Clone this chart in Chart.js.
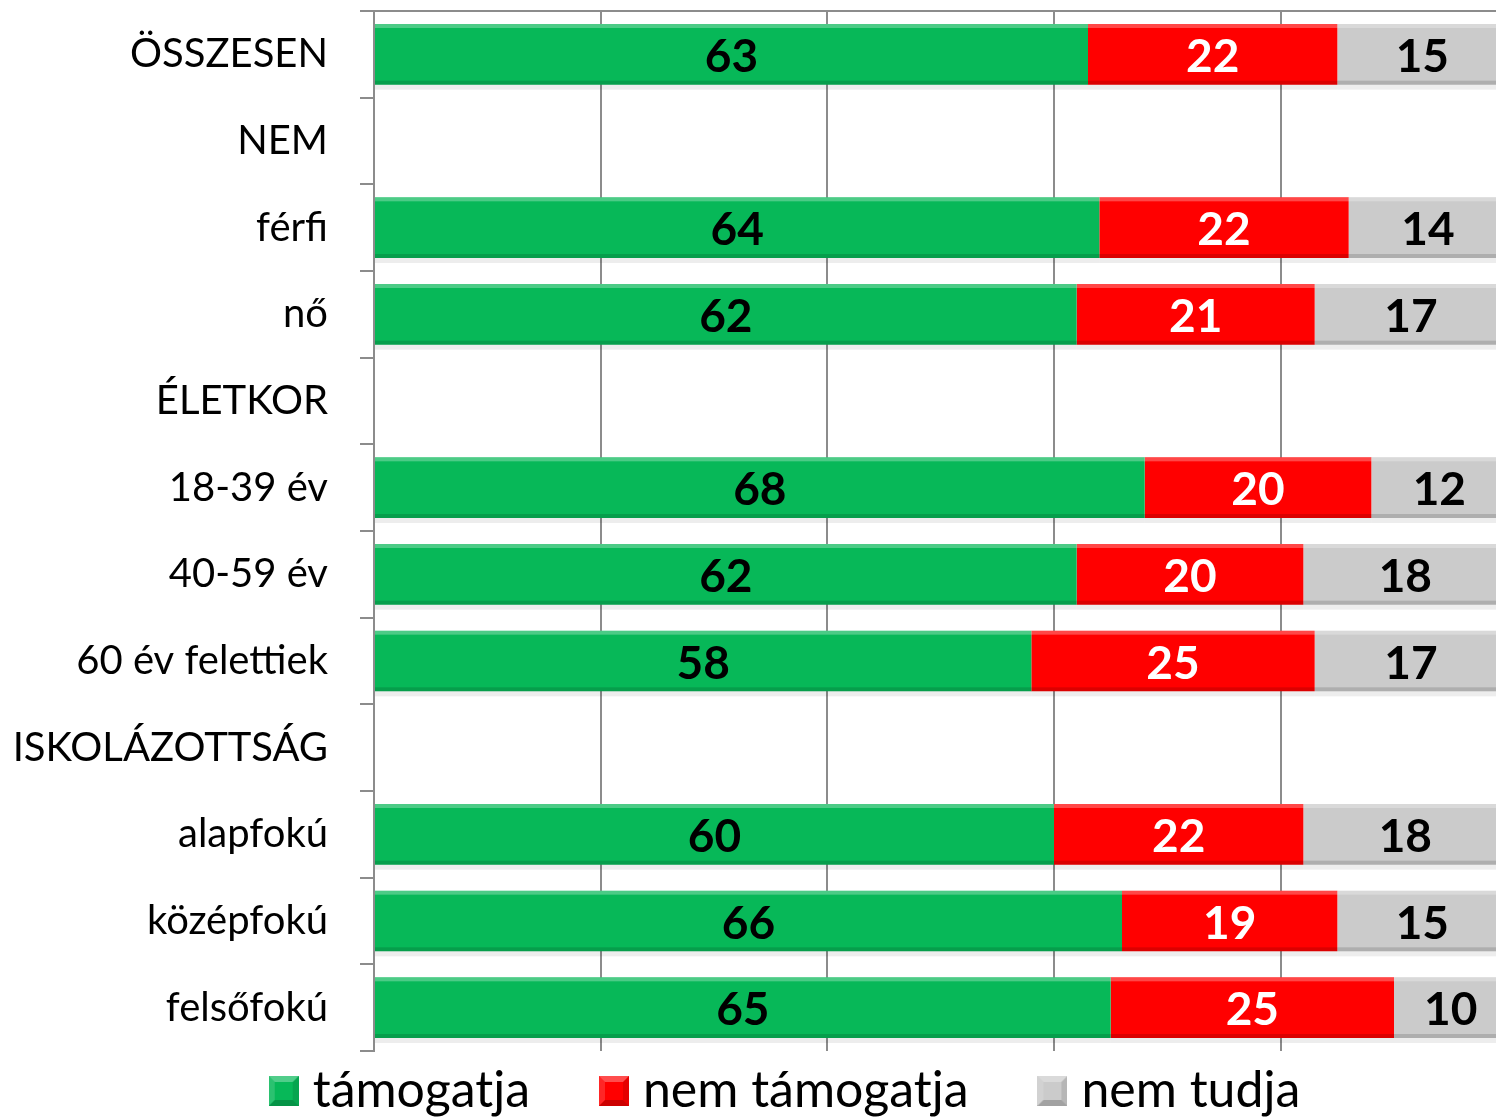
<!DOCTYPE html>
<html>
<head>
<meta charset="utf-8">
<script src="https://cdn.jsdelivr.net/npm/chart.js@4/dist/chart.umd.min.js"></script>
<style>
  html, body { margin: 0; padding: 0; background: #fff; }
  #wrap { width: 1496px; height: 1117px; }
</style>
</head>
<body>
<div id="wrap"><canvas id="myChart" width="1496" height="1117"></canvas></div>
<script>
// kategóriák és adatok
var categories = ['ÖSSZESEN', 'NEM', 'férfi', 'nő', 'ÉLETKOR', '18-39 év', '40-59 év',
                  '60 év felettiek', 'ISKOLÁZOTTSÁG', 'alapfokú', 'középfokú', 'felsőfokú'];
var tamogatja    = [63, null, 64, 62, null, 68, 62, 58, null, 60, 66, 65];
var nemTamogatja = [22, null, 22, 21, null, 20, 20, 25, null, 22, 19, 25];
var nemTudja     = [15, null, 14, 17, null, 12, 18, 17, null, 18, 15, 10];
var xTicks = [0, 20, 40, 60, 80];

var seriesNames = ['támogatja', 'nem támogatja', 'nem tudja'];
var colors = ['#07b858', '#ff0000', '#cbcbcb'];
var labelColors = ['#000000', '#ffffff', '#000000'];

// jelmagyarázat négyzetek, domború hatással
function legendBox(color) {
  var c = document.createElement('canvas');
  c.width = 30; c.height = 30;
  var g = c.getContext('2d');
  g.fillStyle = color;
  g.fillRect(0, 0, 30, 30);
  g.fillStyle = 'rgba(255,255,255,0.3)';
  g.beginPath(); g.moveTo(0, 0); g.lineTo(30, 0); g.lineTo(24, 6); g.lineTo(6, 6); g.closePath(); g.fill();
  g.fillStyle = 'rgba(255,255,255,0.15)';
  g.beginPath(); g.moveTo(0, 0); g.lineTo(6, 6); g.lineTo(6, 24); g.lineTo(0, 30); g.closePath(); g.fill();
  g.fillStyle = 'rgba(0,0,0,0.2)';
  g.beginPath(); g.moveTo(0, 30); g.lineTo(6, 24); g.lineTo(24, 24); g.lineTo(30, 30); g.closePath(); g.fill();
  g.fillStyle = 'rgba(0,0,0,0.1)';
  g.beginPath(); g.moveTo(30, 0); g.lineTo(24, 6); g.lineTo(24, 24); g.lineTo(30, 30); g.closePath(); g.fill();
  return c;
}

// szóközök a jelmagyarázat elemei közé (~77px)
function gapText(px) {
  var m = document.createElement('canvas').getContext('2d');
  m.font = '50px Lato';
  var s = '';
  while (m.measureText(s + ' ').width <= px) s += ' ';
  return s;
}
var legendGap = gapText(77);

// a jelmagyarázat kicsit jobbra
var legendShift = {
  id: 'legendShift',
  afterLayout: function(chart) {
    if (chart.legend) chart.legend.left += 72;
  }
};

// kis "domborítás" a sávokra
var bevel = {
  id: 'bevel',
  afterDatasetsDraw: function(chart) {
    var ctx = chart.ctx, a = chart.chartArea;
    ctx.save();
    ctx.beginPath();
    ctx.rect(a.left, a.top, a.right - a.left, a.bottom - a.top);
    ctx.clip();
    chart.data.datasets.forEach(function(ds, i) {
      chart.getDatasetMeta(i).data.forEach(function(bar, j) {
        if (ds.data[j] == null) return;
        var l = Math.min(bar.x, bar.base), r = Math.max(bar.x, bar.base);
        var t = bar.y - bar.height / 2, b = bar.y + bar.height / 2;
        ctx.fillStyle = 'rgba(255,255,255,0.28)';
        ctx.fillRect(l, t, r - l, 4);
        ctx.fillStyle = 'rgba(0,0,0,0.14)';
        ctx.fillRect(l, b - 4, r - l, 4);
        ctx.fillStyle = 'rgba(0,0,0,0.07)';
        ctx.fillRect(l, b, r - l, 5);
      });
    });
    ctx.restore();
  }
};

// felirat a szegmensek közepére
var valueLabels = {
  id: 'valueLabels',
  afterDatasetsDraw: function(chart) {
    var ctx = chart.ctx;
    ctx.save();
    ctx.font = 'bold 46px Lato';
    ctx.textAlign = 'center';
    ctx.textBaseline = 'middle';
    chart.data.datasets.forEach(function(ds, i) {
      var meta = chart.getDatasetMeta(i);
      meta.data.forEach(function(bar, j) {
        if (ds.data[j] == null) return;
        ctx.fillStyle = labelColors[i];
        ctx.fillText(ds.data[j], (bar.x + bar.base) / 2, bar.y + 3);
      });
    });
    ctx.restore();
  }
};

// felső vonal a diagram tetején
var topLine = {
  id: 'topLine',
  beforeDatasetsDraw: function(chart) {
    var a = chart.chartArea, ctx = chart.ctx;
    ctx.save();
    ctx.strokeStyle = '#8c8c8c';
    ctx.lineWidth = 2;
    ctx.beginPath();
    ctx.moveTo(a.left - 14, a.top);
    ctx.lineTo(a.right, a.top);
    ctx.stroke();
    ctx.restore();
  }
};

var ctx = document.getElementById('myChart').getContext('2d');
var myChart = new Chart(ctx, {
  type: 'bar',
  data: {
    labels: categories,
    datasets: [tamogatja, nemTamogatja, nemTudja].map(function(d, i) {
      return {
        label: seriesNames[i],
        data: d,
        backgroundColor: colors[i],
        borderWidth: 0,
        barPercentage: 0.7,
        categoryPercentage: 1
      };
    })
  },
  options: {
    indexAxis: 'y',
    responsive: false,
    animation: false,
    layout: { padding: { top: 11, right: 0, left: 12, bottom: -9 } },
    scales: {
      x: {
        stacked: true,
        min: 0,
        max: 99,
        afterBuildTicks: function(scale) {
          scale.ticks = xTicks.map(function(v) { return { value: v }; });
        },
        afterFit: function(scale) { scale.height = 12; },
        ticks: { display: false },
        grid: { color: '#8c8c8c', lineWidth: 2, drawTicks: false },
        border: { display: false }
      },
      y: {
        stacked: true,
        offset: true,
        afterFit: function(scale) { scale.paddingTop = 0; scale.paddingBottom = 0; scale.width = 362; },
        ticks: { color: '#000', font: { family: 'Lato', size: 40 }, padding: 32 },
        grid: { offset: true, drawOnChartArea: false, color: '#8c8c8c', lineWidth: 2, tickLength: 14 },
        border: { display: true, color: '#8c8c8c', width: 2 }
      }
    },
    plugins: {
      legend: {
        position: 'bottom',
        labels: {
          color: '#000',
          font: { family: 'Lato', size: 50 },
          usePointStyle: true,
          pointStyleWidth: 8,
          padding: 3,
          generateLabels: function(chart) {
            return chart.data.datasets.map(function(ds, i) {
              return {
                text: ds.label + (i < 2 ? legendGap : ''),
                fillStyle: colors[i],
                strokeStyle: colors[i],
                pointStyle: legendBox(colors[i]),
                lineWidth: 0,
                fontColor: '#000',
                hidden: false,
                datasetIndex: i
              };
            });
          }
        }
      },
      tooltip: { enabled: false }
    }
  },
  plugins: [legendShift, bevel, valueLabels, topLine]
});
</script>
</body>
</html>
